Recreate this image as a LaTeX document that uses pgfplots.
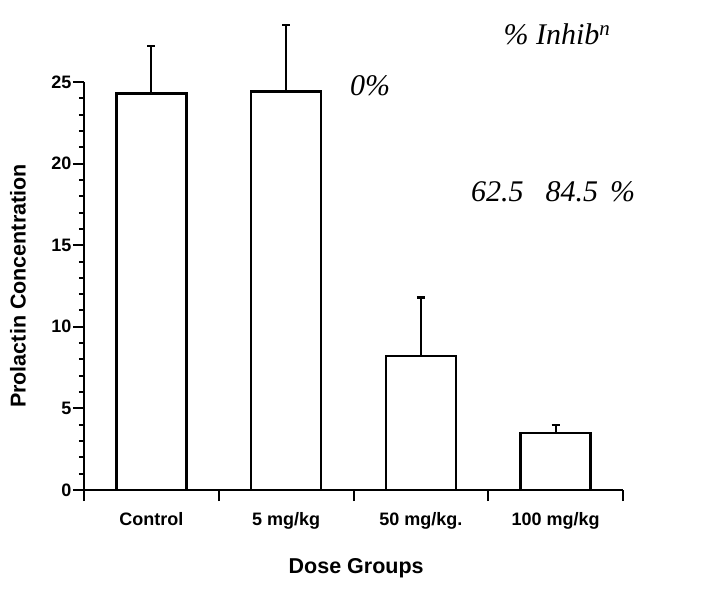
\documentclass[border=0pt]{standalone}
\usepackage{pgfplots}
\pgfplotsset{compat=1.18}
\usepackage{fontspec}
\setmainfont{Liberation Sans}
\newfontfamily\hand{Liberation Serif}
\begin{document}
\begin{tikzpicture}
\useasboundingbox (0pt,0pt) rectangle (717pt,592pt);
\begin{axis}[
  at={(84pt,102pt)}, anchor=south west,
  scale only axis, width=539pt, height=408pt,
  xmin=-0.5, xmax=3.5, ymin=0, ymax=25,
  axis x line=bottom, axis y line=left,
  axis line style={line width=2.6pt,-},
  xtick={-0.5,0.5,1.5,2.5,3.5},
  xticklabels={},
  extra x ticks={0,1,2,3},
  extra x tick labels={Control, 5 mg/kg, 50 mg/kg., 100 mg/kg},
  extra x tick style={major tick length=0pt, tick style={draw=none}},
  ytick={0,5,10,15,20,25},
  minor y tick num=4,
  tick align=outside,
  tick style={line width=2pt,black},
  major tick length=11pt, minor tick length=5pt,
  /pgf/number format/assume math mode=true,
  ticklabel style={font=\fontsize{18}{20}\selectfont\bfseries},
  xticklabel style={yshift=-19pt},
  yticklabel style={xshift=2pt},
  ylabel={Prolactin Concentration},
  ylabel style={font=\fontsize{21.5}{24}\selectfont\bfseries, at={(axis description cs:-0.1225,0.5)}, anchor=center},
  xlabel={Dose Groups},
  xlabel style={font=\fontsize{21.5}{24}\selectfont\bfseries, at={(axis description cs:0.505,-0.191)}, anchor=center},
  clip=false,
]
\addplot[ybar, bar width=0.52, fill=white, draw=black, line width=2.6pt,
  error bars/.cd, y dir=plus, y explicit,
  error bar style={line width=2.2pt},
  error mark=-,
  error mark options={rotate=90, line width=2.2pt, mark size=4pt}]
  coordinates {
    (0,24.3) +- (0,2.9)
    (1,24.4) +- (0,4.1)
    (2,8.2)  +- (0,3.6)
    (3,3.5)  +- (0,0.5)
  };
\end{axis}
\node[font=\hand\itshape\fontsize{30}{32}\selectfont] at (370pt,506pt) {0\%};
\node[font=\hand\itshape\fontsize{30}{32}\selectfont] at (557pt,558pt) {\% Inhib\textsuperscript{n}};
\node[font=\hand\itshape\fontsize{30}{32}\selectfont] at (553pt,400pt) {62.5\hspace{22pt}84.5\hspace{12pt}\%};
\end{tikzpicture}
\end{document}
